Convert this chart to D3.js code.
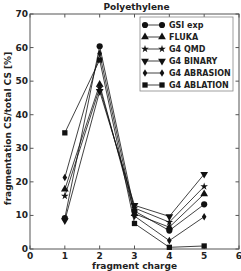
<!DOCTYPE html>
<html>
<head>
<meta charset="utf-8">
<script src="https://cdn.jsdelivr.net/npm/d3@7"></script>
<style>
  body { margin: 0; background: #fff; }
  text { font-family: "DejaVu Sans", sans-serif; font-weight: bold; fill: #222; }
</style>
</head>
<body>
<svg id="chart" width="241" height="271"></svg>
<script>
// fragment charge on x, fragmentation CS / total CS [%] on y
const charges = [1, 2, 3, 4, 5];
const gsiExp = [9.2, 60.4, 11.3, 5.5, 13.3];
const fluka = [17.8, 49.0, 10.5, 6.5, 16.4];
const g4Qmd = [15.8, 48.0, 12.2, 8.0, 18.6];
const g4Binary = [8.5, 47.0, 13.0, 9.7, 22.3];
const g4Abrasion = [21.3, 58.2, 9.8, 2.5, 9.6];
const g4Ablation = [34.6, 56.3, 7.6, 0.5, 0.9];

const xTicks = [0, 1, 2, 3, 4, 5, 6];
const yTicks = [0, 10, 20, 30, 40, 50, 60, 70];

const series = [
    { name: 'GSI exp', values: gsiExp, symbol: d3.symbolCircle, size: 30 },
    { name: 'FLUKA', values: fluka, symbol: d3.symbolTriangle, size: 26 },
    { name: 'G4 QMD', values: g4Qmd, symbol: d3.symbolStar, size: 18 },
    { name: 'G4 BINARY', values: g4Binary, symbol: d3.symbolTriangle, size: 26, flip: true },
    { name: 'G4 ABRASION', values: g4Abrasion, symbol: 'thinDiamond', size: 26 },
    { name: 'G4 ABLATION', values: g4Ablation, symbol: d3.symbolSquare, size: 28 }
];

const margin = { top: 14, right: 2, bottom: 22, left: 30 };
const width = 241 - margin.left - margin.right;
const height = 271 - margin.top - margin.bottom;

const svg = d3.select('#chart');
const g = svg.append('g').attr('transform', `translate(${margin.left},${margin.top})`);

const x = d3.scaleLinear().domain([0, 6]).range([0, width]);
const y = d3.scaleLinear().domain([0, 70]).range([height, 0]);

const thinDiamond = {
    draw(ctx, size) {
        const h = Math.sqrt(size) * 0.75;
        const w = h * 0.6;
        ctx.moveTo(0, -h); ctx.lineTo(w, 0); ctx.lineTo(0, h); ctx.lineTo(-w, 0); ctx.closePath();
    }
};
const markerPath = s => d3.symbol()
    .type(s.symbol === 'thinDiamond' ? thinDiamond : s.symbol)
    .size(s.size)();

// frame
g.append('rect')
    .attr('width', width).attr('height', height)
    .attr('fill', 'none').attr('stroke', '#555').attr('stroke-width', 1);

// inward ticks on all four sides
const tickLen = 3.5;
g.append('g').selectAll('line').data(xTicks).enter().append('line')
    .attr('x1', d => x(d)).attr('x2', d => x(d))
    .attr('y1', height).attr('y2', height - tickLen)
    .attr('stroke', '#555');
g.append('g').selectAll('line').data(xTicks).enter().append('line')
    .attr('x1', d => x(d)).attr('x2', d => x(d))
    .attr('y1', 0).attr('y2', tickLen)
    .attr('stroke', '#555');
g.append('g').selectAll('line').data(yTicks).enter().append('line')
    .attr('y1', d => y(d)).attr('y2', d => y(d))
    .attr('x1', 0).attr('x2', tickLen)
    .attr('stroke', '#555');
g.append('g').selectAll('line').data(yTicks).enter().append('line')
    .attr('y1', d => y(d)).attr('y2', d => y(d))
    .attr('x1', width).attr('x2', width - tickLen)
    .attr('stroke', '#555');

// tick labels
g.append('g').selectAll('text').data(xTicks).enter().append('text')
    .attr('x', d => x(d)).attr('y', height + 10)
    .attr('text-anchor', 'middle').attr('font-size', 9)
    .text(d => d);
g.append('g').selectAll('text').data(yTicks).enter().append('text')
    .attr('x', -2).attr('y', d => y(d) + 3)
    .attr('text-anchor', 'end').attr('font-size', 9)
    .text(d => d);

// axis titles
g.append('text')
    .attr('x', width / 2).attr('y', height + 20)
    .attr('text-anchor', 'middle').attr('font-size', 9)
    .text('fragment charge');
g.append('text')
    .attr('transform', `translate(${-19},${height / 2 - 3}) rotate(-90)`)
    .attr('text-anchor', 'middle').attr('font-size', 9)
    .text('fragmentation CS/total CS [%]');
svg.append('text')
    .attr('x', margin.left + width / 2 + 2).attr('y', 10)
    .attr('text-anchor', 'middle').attr('font-size', 9)
    .text('Polyethylene');

// series lines and markers
const line = d3.line().x((d, i) => x(charges[i])).y(d => y(d));
const groups = g.append('g').selectAll('g').data(series).enter().append('g');
groups.append('path')
    .attr('d', s => line(s.values))
    .attr('fill', 'none').attr('stroke', '#111').attr('stroke-width', 0.8);
groups.each(function(s) {
    d3.select(this).selectAll('path.m').data(s.values).enter().append('path')
        .attr('class', 'm')
        .attr('d', markerPath(s))
        .attr('transform', (d, i) => `translate(${x(charges[i])},${y(d)})${s.flip ? ' rotate(180)' : ''}`)
        .attr('fill', '#111');
});

// legend
const legendX = 110, legendY = 3, rowH = 12;
const legend = g.append('g').attr('transform', `translate(${legendX},${legendY})`);
legend.append('rect')
    .attr('width', 93).attr('height', 74)
    .attr('fill', '#fff').attr('stroke', '#888').attr('stroke-width', 0.8);
const rows = legend.selectAll('g').data(series).enter().append('g')
    .attr('transform', (s, i) => `translate(0,${8 + i * rowH})`);
rows.append('line')
    .attr('x1', 5).attr('x2', 22).attr('stroke', '#111').attr('stroke-width', 0.8);
rows.each(function(s) {
    d3.select(this).selectAll('path').data([5, 22]).enter().append('path')
        .attr('d', markerPath(s))
        .attr('transform', d => `translate(${d},0)${s.flip ? ' rotate(180)' : ''}`)
        .attr('fill', '#111');
});
rows.append('text')
    .attr('x', 29).attr('y', 3)
    .attr('font-size', 8)
    .text(s => s.name);
</script>
</body>
</html>
